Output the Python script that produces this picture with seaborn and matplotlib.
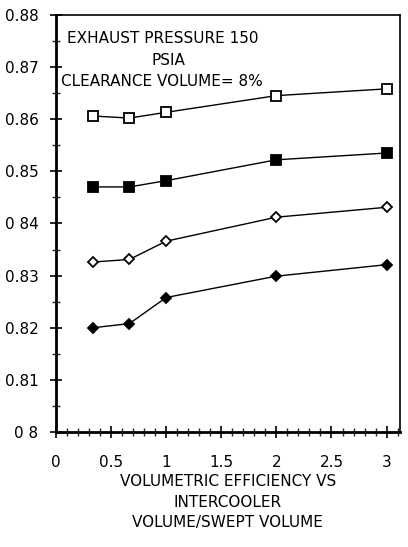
import matplotlib
matplotlib.use("Agg")
import matplotlib.pyplot as plt
import seaborn as sns
import pandas as pd
from matplotlib.ticker import MultipleLocator, FixedLocator

# data
ratio = [1/3, 2/3, 1.0, 2.0, 3.0]
open_sq = [0.8606, 0.8602, 0.8613, 0.8645, 0.8658]
filled_sq = [0.8470, 0.8470, 0.8482, 0.8522, 0.8535]
open_dia = [0.8326, 0.8331, 0.8366, 0.8412, 0.8431]
filled_dia = [0.8200, 0.8208, 0.8258, 0.8299, 0.8321]

x_ticks = [0, 0.5, 1, 1.5, 2, 2.5, 3]
x_tick_labels = ["0", "0.5", "1", "1.5", "2", "2.5", "3"]
y_ticks = [0.80, 0.81, 0.82, 0.83, 0.84, 0.85, 0.86, 0.87, 0.88]
y_tick_labels = ["0 8", "0.81", "0.82", "0.83", "0 84", "0.85", "0.86", "0.87", "0.88"]

sns.set_style("white")
plt.rcParams['font.family'] = ['Liberation Sans Narrow', 'DejaVu Sans']
plt.rcParams['text.color'] = 'black'
plt.rcParams['axes.labelcolor'] = 'black'

fig = plt.figure(figsize=(4.08, 5.47), dpi=100)
ax = fig.add_axes([0.137, 0.210, 0.843, 0.763])

series = [
    (open_sq, 's', 'white', 6.5),
    (filled_sq, 's', 'black', 7.5),
    (open_dia, 'D', 'white', 5),
    (filled_dia, 'D', 'black', 5.5),
]
for vals, mk, face, ms in series:
    df = pd.DataFrame({'x': ratio, 'y': vals})
    sns.lineplot(data=df, x='x', y='y', ax=ax, color='black', linewidth=1,
                 marker=mk, markersize=ms, markerfacecolor=face,
                 markeredgecolor='black', markeredgewidth=1.3)

ax.set_xlim(0, 3.12)
ax.set_ylim(0.80, 0.88)
ax.xaxis.set_major_locator(FixedLocator(x_ticks))
ax.set_xticklabels(x_tick_labels)
ax.xaxis.set_minor_locator(MultipleLocator(0.1))
ax.yaxis.set_major_locator(FixedLocator(y_ticks))
ax.set_yticklabels(y_tick_labels)
ax.yaxis.set_minor_locator(MultipleLocator(0.005))

ax.tick_params(axis='both', which='both', bottom=True, left=True, top=False, right=False)
ax.tick_params(axis='both', which='major', direction='inout', length=9, width=1.2,
               labelsize=11, colors='black', pad=8)
ax.tick_params(axis='both', which='minor', direction='inout', length=6, width=1)
ax.tick_params(axis='x', which='major', pad=12)

for side in ['left', 'bottom']:
    ax.spines[side].set_linewidth(2)
    ax.spines[side].set_color('black')
for side in ['top', 'right']:
    ax.spines[side].set_linewidth(1.2)
    ax.spines[side].set_color('black')

ax.set_xlabel("VOLUMETRIC EFFICIENCY VS\nINTERCOOLER\nVOLUME/SWEPT VOLUME",
              fontsize=11, linespacing=1.45, labelpad=3, color='black')
ax.set_ylabel("")

ax.text(0.10, 0.8755, "EXHAUST PRESSURE 150", fontsize=11, ha='left', va='center')
ax.text(1.02, 0.8712, "PSIA", fontsize=11, ha='center', va='center')
ax.text(0.05, 0.8672, "CLEARANCE VOLUME= 8%", fontsize=11, ha='left', va='center')

fig.savefig("out.png", dpi=100)
